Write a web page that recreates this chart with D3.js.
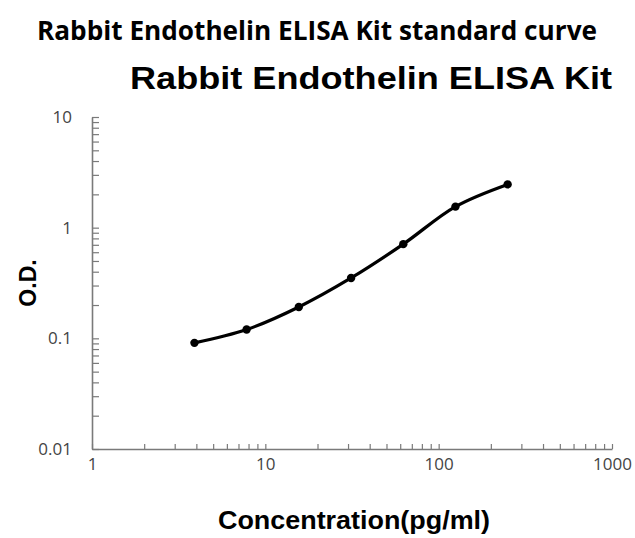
<!DOCTYPE html>
<html>
<head>
<meta charset="utf-8">
<script src="https://cdn.jsdelivr.net/npm/d3@7"></script>
<style>
  body { margin: 0; background: #fff; }
  svg { display: block; }
</style>
</head>
<body>
<div id="chart"></div>
<script>
// standard curve readings
const concentrations = [3.9, 7.8, 15.6, 31.25, 62.5, 125, 250];
const odValues = [0.091, 0.12, 0.192, 0.351, 0.71, 1.55, 2.46];

const xTickLabels = [1, 10, 100, 1000];
const yTickLabels = [0.01, 0.1, 1, 10];

const W = 635, H = 538;
const plot = { l: 92, r: 612, t: 117, b: 449 };

const svg = d3.select("#chart")
  .append("svg")
  .attr("width", W)
  .attr("height", H);

const x = d3.scaleLog().domain([1, 1000]).range([plot.l, plot.r]);
const y = d3.scaleLog().domain([0.01, 10]).range([plot.b, plot.t]);

// every 1..9 step of each decade
const logTicks = (lo, hi) => {
  const out = [];
  for (let p = lo; p < hi; p *= 10) {
    for (let k = 1; k < 10; k++) out.push(p * k);
  }
  out.push(hi);
  return out;
};

const fmt = (d) => (xTickLabels.includes(d) || yTickLabels.includes(d)) ? String(d) : "";

svg.append("text")
  .attr("x", 317)
  .attr("y", 40)
  .attr("text-anchor", "middle")
  .attr("font-family", "'Open Sans', sans-serif")
  .attr("font-weight", 700)
  .attr("font-size", 27)
  .attr("textLength", 560)
  .attr("lengthAdjust", "spacingAndGlyphs")
  .text("Rabbit Endothelin ELISA Kit standard curve");

svg.append("text")
  .attr("x", 371)
  .attr("y", 89)
  .attr("text-anchor", "middle")
  .attr("font-family", "'Liberation Sans', Arial, sans-serif")
  .attr("font-weight", 700)
  .attr("font-size", 32)
  .attr("textLength", 482)
  .attr("lengthAdjust", "spacingAndGlyphs")
  .text("Rabbit Endothelin ELISA Kit");

// y axis, ticks point inward
const gy = svg.append("g")
  .attr("transform", `translate(${plot.l},0)`)
  .call(d3.axisLeft(y)
    .tickValues(logTicks(0.01, 10))
    .tickSize(-7)
    .tickSizeOuter(0)
    .tickPadding(20)
    .tickFormat(fmt));

// x axis, ticks point up
const gx = svg.append("g")
  .attr("transform", `translate(0,${plot.b})`)
  .call(d3.axisBottom(x)
    .tickValues(logTicks(1, 1000))
    .tickSize(-5)
    .tickSizeOuter(0)
    .tickPadding(11)
    .tickFormat(fmt));

[gx, gy].forEach(g => {
  g.select(".domain").attr("stroke", "#7a7a7a").attr("stroke-width", 1.6);
  g.selectAll(".tick line").attr("stroke", "#7a7a7a").attr("stroke-width", 1.2);
  g.selectAll(".tick text")
    .attr("fill", "#444")
    .attr("font-family", "'Open Sans', sans-serif")
    .attr("font-size", 17);
});

gy.selectAll(".tick text").attr("dy", "0.32em");
gx.selectAll(".tick text").attr("dy", "0.6em");

svg.append("text")
  .attr("transform", "translate(36,283) rotate(-90)")
  .attr("text-anchor", "middle")
  .attr("font-family", "'Liberation Sans', Arial, sans-serif")
  .attr("font-weight", 700)
  .attr("font-size", 23)
  .text("O.D.");

svg.append("text")
  .attr("x", 354)
  .attr("y", 529)
  .attr("text-anchor", "middle")
  .attr("font-family", "'Liberation Sans', Arial, sans-serif")
  .attr("font-weight", 700)
  .attr("font-size", 26)
  .attr("textLength", 272)
  .attr("lengthAdjust", "spacingAndGlyphs")
  .text("Concentration(pg/ml)");

const pts = concentrations.map((c, i) => ({ c, od: odValues[i] }));

const line = d3.line()
  .x(d => x(d.c))
  .y(d => y(d.od))
  .curve(d3.curveCatmullRom.alpha(0.5));

svg.append("path")
  .datum(pts)
  .attr("fill", "none")
  .attr("stroke", "#000")
  .attr("stroke-width", 3.2)
  .attr("d", line);

svg.selectAll("circle.pt")
  .data(pts)
  .join("circle")
  .attr("class", "pt")
  .attr("cx", d => x(d.c))
  .attr("cy", d => y(d.od))
  .attr("r", 4.2)
  .attr("fill", "#000");
</script>
</body>
</html>
